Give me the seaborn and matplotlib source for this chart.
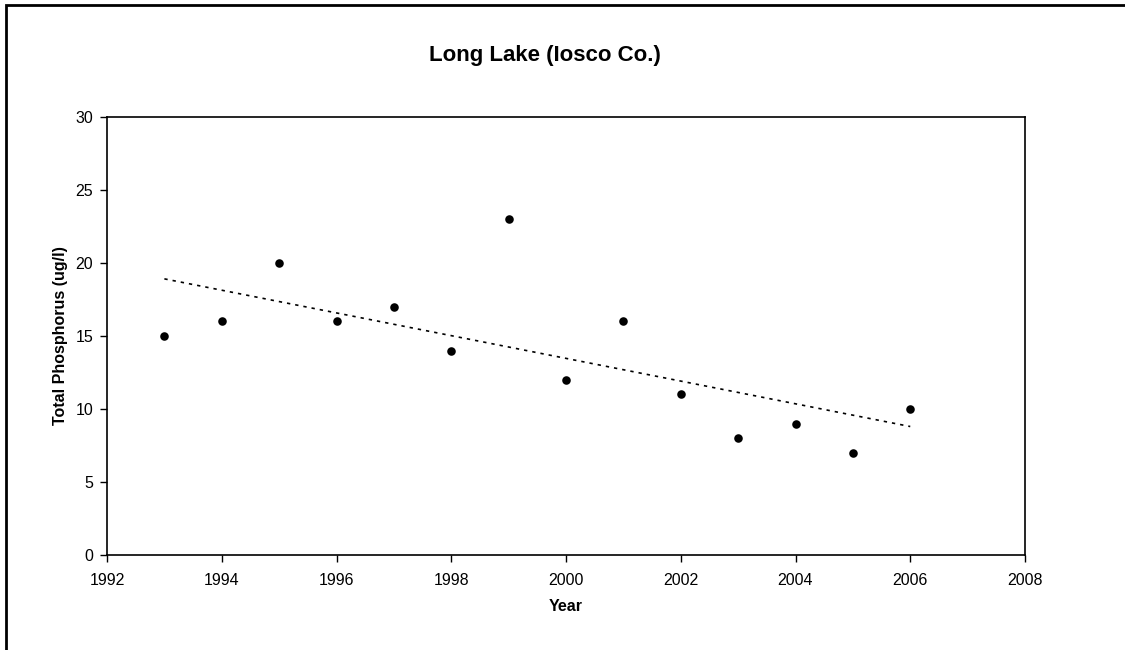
import matplotlib
matplotlib.use("Agg")
import matplotlib.pyplot as plt
import matplotlib.patches as mpatches
import seaborn as sns
import pandas as pd

# Data
years = [1993, 1994, 1995, 1996, 1997, 1998, 1999, 2000, 2001, 2002, 2003, 2004, 2005, 2006]
phosphorus = [15, 16, 20, 16, 17, 14, 23, 12, 16, 11, 8, 9, 7, 10]
x_ticks = [1992, 1994, 1996, 1998, 2000, 2002, 2004, 2006, 2008]
y_ticks = [0, 5, 10, 15, 20, 25, 30]

df = pd.DataFrame({"Year": years, "TP": phosphorus})

sns.set_style("white")
plt.rcParams['font.family'] = ['Liberation Sans', 'DejaVu Sans']
plt.rcParams['text.color'] = 'black'
plt.rcParams['xtick.color'] = 'black'
plt.rcParams['ytick.color'] = 'black'
plt.rcParams['axes.labelcolor'] = 'black'

fig = plt.figure(figsize=(11.25, 6.5), dpi=100)
W, H = 1125, 650
ax = fig.add_axes([107 / W, 1 - 555 / H, (1025 - 107) / W, (555 - 117) / H])

sns.regplot(data=df, x="Year", y="TP", ax=ax, ci=None,
            scatter_kws=dict(color="black", s=38, linewidths=0, alpha=1),
            line_kws=dict(color="black", linestyle=(0, (2, 3)), linewidth=1.2))

ax.set_xlim(1992, 2008)
ax.set_ylim(0, 30)
ax.set_xticks(x_ticks)
ax.set_yticks(y_ticks)
ax.tick_params(axis="both", direction="out", length=5, width=1, color="black",
               labelsize=11.5, pad=5, bottom=True, left=True)
ax.tick_params(axis="x", pad=8)
for s in ax.spines.values():
    s.set_color("black")
    s.set_linewidth(1.2)

ax.set_xlabel("Year", fontsize=11.5, fontweight="bold", labelpad=8)
ax.set_ylabel("Total Phosphorus (ug/l)", fontsize=11.5, fontweight="bold", labelpad=5)

fig.text(545 / W, 1 - 55 / H, "Long Lake (Iosco Co.)", fontsize=16, fontweight="bold",
         ha="center", va="center")

# outer frame (runs off right and bottom edges like the reference)
fig.patches.append(mpatches.Rectangle((6 / W, -0.05), 1.1, 1 - 5 / H + 0.05,
                                      transform=fig.transFigure, fill=False,
                                      edgecolor="black", linewidth=2))

fig.savefig("out.png", dpi=100)
